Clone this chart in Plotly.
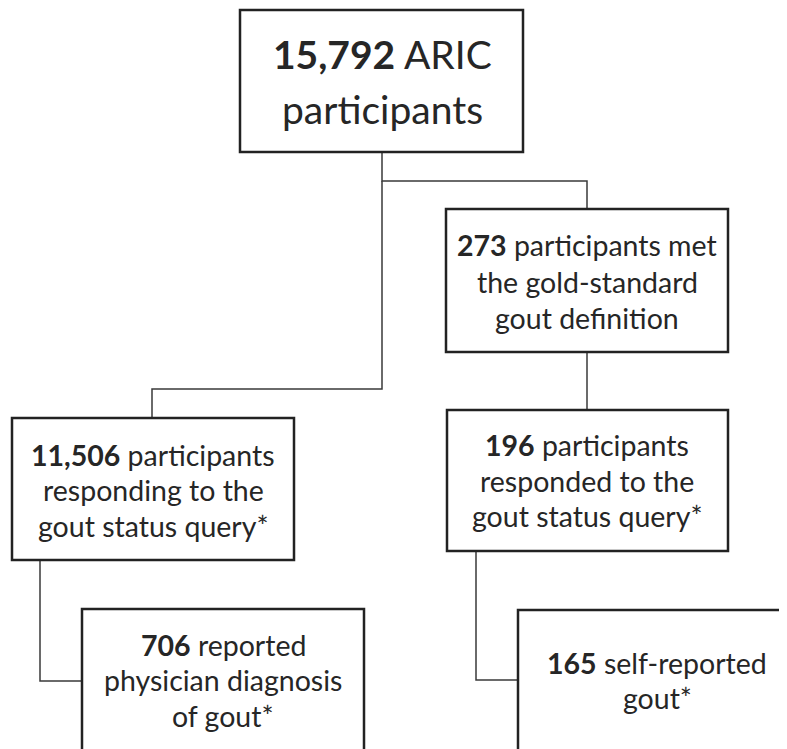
import plotly.graph_objects as go

# ---- data: flowchart node contents ----
counts = ["15,792", "273", "11,506", "196", "706", "165"]
label_first = [" ARIC", " participants met", " participants", " participants", " reported", " self-reported"]
label_rest = [
    ["participants"],
    ["the gold-standard", "gout definition"],
    ["responding to the", "gout status query*"],
    ["responded to the", "gout status query*"],
    ["physician diagnosis", "of gout*"],
    ["gout*"],
]

# ---- layout: box geometry (x0, x1, y0, y1) in page pixels ----
boxes = [
    (240, 523, 10, 152),
    (446, 728, 209, 352),
    (12, 294, 418, 560),
    (447, 728, 410, 551),
    (82, 364, 609, 770),
    (518, 800, 610, 770),
]
line_y = [
    [54, 109],
    [245, 282, 318],
    [455, 490, 526],
    [445, 481, 516],
    [645, 680, 716],
    [663, 698],
]
font_sizes = [39, 28.5, 28.5, 28.5, 28.5, 28.5]
text_cx = [382, 587, 153, 587, 223, 657]

# connectors as polylines
connectors = [
    [(382, 152), (382, 181), (587, 181), (587, 209)],
    [(382, 181), (382, 389), (152, 389), (152, 418)],
    [(587, 352), (587, 410)],
    [(40, 560), (40, 681), (82, 681)],
    [(476, 551), (476, 680), (518, 680)],
]

fig = go.Figure()

for pts in connectors:
    fig.add_trace(go.Scatter(
        x=[p[0] for p in pts], y=[p[1] for p in pts], mode="lines",
        line=dict(color="#3a3a3a", width=1.5), hoverinfo="skip", showlegend=False))

shapes = []
for (x0, x1, y0, y1) in boxes:
    shapes.append(dict(type="rect", x0=x0, x1=x1, y0=y0, y1=y1,
                       line=dict(color="#222222", width=2.5), fillcolor="white", layer="above"))

annotations = []
FONT = "Lato, 'Open Sans', sans-serif"
for i in range(len(counts)):
    lines = ["<b>" + counts[i] + "</b>" + label_first[i]] + label_rest[i]
    for j, txt in enumerate(lines):
        annotations.append(dict(
            x=text_cx[i], y=line_y[i][j], text=txt, showarrow=False,
            xanchor="center", yanchor="middle",
            font=dict(family=FONT, size=font_sizes[i], color="#262626")))

# page body has an 8px margin, so the figure is 8px smaller and the range starts at 8
fig.update_layout(
    width=779, height=741,
    margin=dict(l=0, r=0, t=0, b=0),
    paper_bgcolor="white", plot_bgcolor="white",
    xaxis=dict(range=[8, 787], visible=False, fixedrange=True),
    yaxis=dict(range=[749, 8], visible=False, fixedrange=True),
    shapes=shapes, annotations=annotations, showlegend=False,
)

fig.write_html("out.html")
